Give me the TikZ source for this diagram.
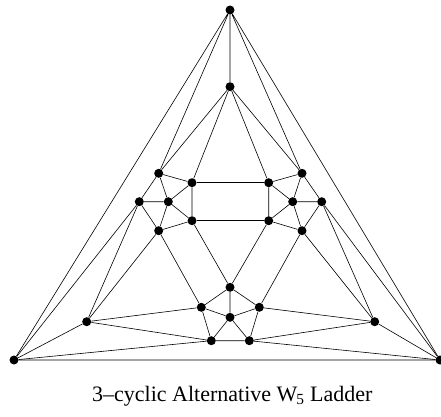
\documentclass[tikz,border=0pt]{standalone}
\usepackage{fontspec}
\setmainfont{Liberation Serif}
\begin{document}
\begin{tikzpicture}[x=1pt,y=-1pt,
  vtx/.style={circle,fill=black,inner sep=0pt,minimum size=9pt},
  edge/.style={line width=0.6pt}]
\useasboundingbox (0,0) rectangle (441,416);
\node[vtx] (T) at (230,10) {};
\node[vtx] (U) at (230,86.7) {};
\node[vtx] (L1) at (158.7,173.3) {};
\node[vtx] (L2) at (192,182.7) {};
\node[vtx] (L3) at (139.3,201.7) {};
\node[vtx] (L4) at (168.3,201.7) {};
\node[vtx] (L5) at (158.7,230.7) {};
\node[vtx] (L6) at (192,220.7) {};
\node[vtx] (R1) at (302,173.3) {};
\node[vtx] (R2) at (268.7,182.7) {};
\node[vtx] (R3) at (321.7,201.7) {};
\node[vtx] (R4) at (292.7,201.7) {};
\node[vtx] (R5) at (302,230.7) {};
\node[vtx] (R6) at (268.7,220.7) {};
\node[vtx] (B1) at (230,287.3) {};
\node[vtx] (B2) at (201.3,307.3) {};
\node[vtx] (B3) at (259.3,307.3) {};
\node[vtx] (B4) at (230,317.3) {};
\node[vtx] (B5) at (211.3,340.7) {};
\node[vtx] (B6) at (249.3,340.7) {};
\node[vtx] (BLi) at (86.7,321.7) {};
\node[vtx] (BRi) at (374.7,321.7) {};
\node[vtx] (BL) at (14,360) {};
\node[vtx] (BR) at (440,360) {};
\draw[edge] (T) -- (BL) (T) -- (BR) (T) -- (U) (T) -- (L1) (T) -- (R1) (BL) -- (BR);
\draw[edge] (U) -- (L1) (U) -- (L2) (U) -- (R1) (U) -- (R2);
\draw[edge] (L1) -- (L2) (L1) -- (L3) (L1) -- (L4) (L3) -- (L4) (L2) -- (L4) (L4) -- (L6) (L2) -- (L6) (L3) -- (L5) (L4) -- (L5) (L5) -- (L6);
\draw[edge] (R1) -- (R2) (R1) -- (R3) (R1) -- (R4) (R3) -- (R4) (R2) -- (R4) (R4) -- (R6) (R2) -- (R6) (R3) -- (R5) (R4) -- (R5) (R5) -- (R6);
\draw[edge] (L2) -- (R2) (L6) -- (R6);
\draw[edge] (L3) -- (BL) (L3) -- (BLi) (L5) -- (BLi) (L5) -- (B2) (L6) -- (B1);
\draw[edge] (R3) -- (BR) (R3) -- (BRi) (R5) -- (BRi) (R5) -- (B3) (R6) -- (B1);
\draw[edge] (B1) -- (B2) (B1) -- (B3) (B1) -- (B4) (B2) -- (B4) (B3) -- (B4) (B2) -- (B5) (B3) -- (B6) (B4) -- (B5) (B4) -- (B6) (B5) -- (B6);
\draw[edge] (BLi) -- (BL) (BLi) -- (B2) (BLi) -- (B5) (BL) -- (B5);
\draw[edge] (BRi) -- (BR) (BRi) -- (B3) (BRi) -- (B6) (BR) -- (B6);
\node[anchor=base west,inner sep=0pt,font=\fontsize{22}{24}\selectfont] (cap) at (92,401) {3–cyclic Alternative W\kern-1pt\textsubscript{5} Ladder};
\end{tikzpicture}
\end{document}
